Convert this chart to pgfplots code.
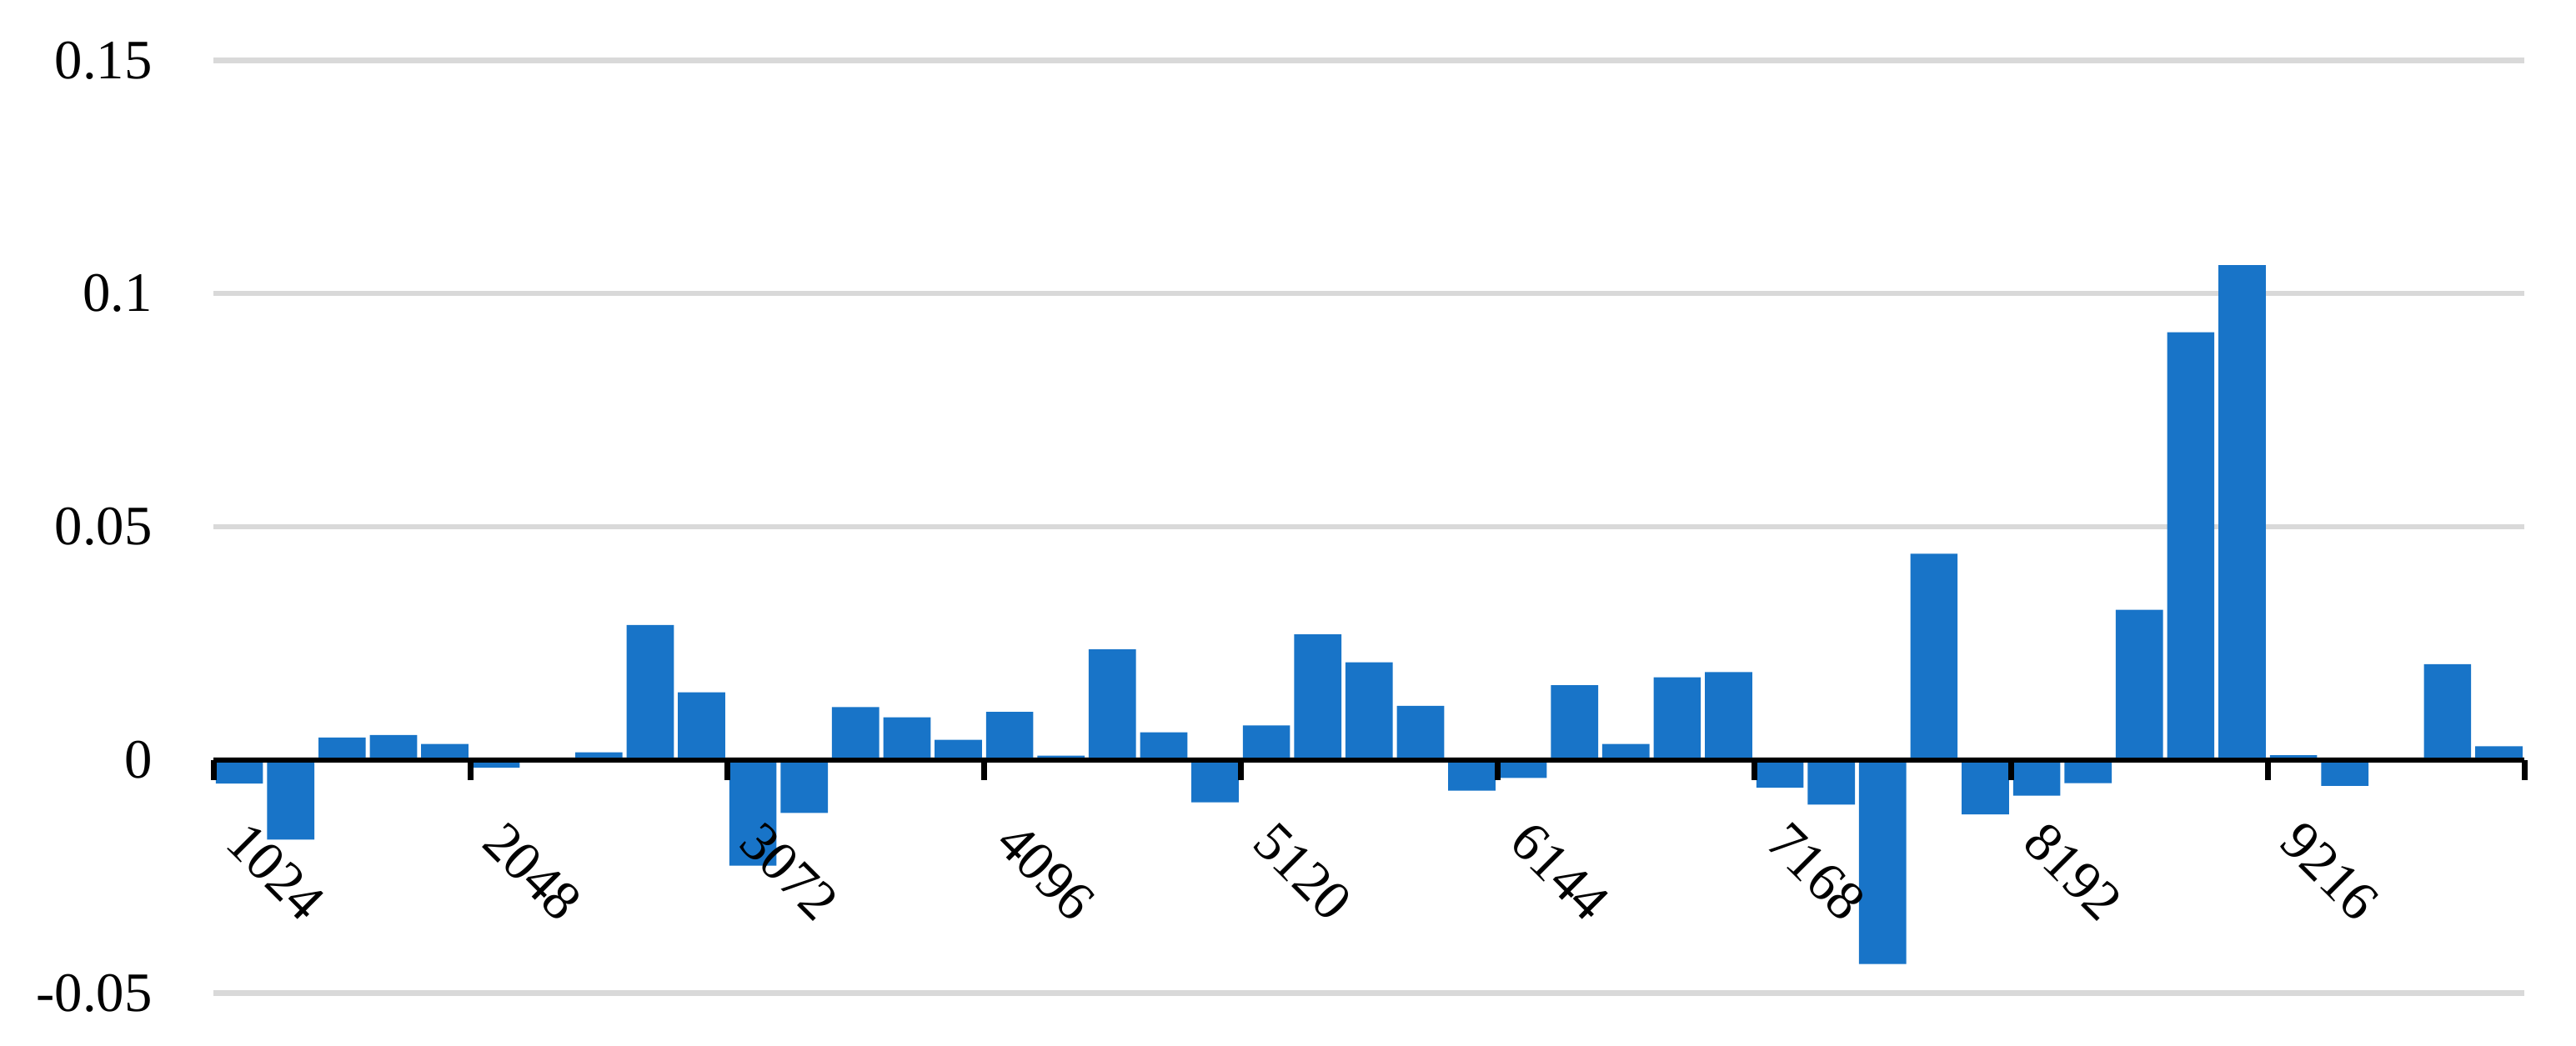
\documentclass[border=0pt]{standalone}
\usepackage{pgfplots}
\pgfplotsset{compat=1.18}
\usepackage{fontspec}
\setmainfont{Liberation Serif}
\definecolor{barblue}{RGB}{24,116,200}
\definecolor{gridgray}{RGB}{217,217,217}

\pgfplotsset{
  frame/.style={
    scale only axis,
    width=17.95cm, height=7.245cm,
    xmin=-0.5, xmax=44.5,
    ymin=-0.05, ymax=0.15,
    ytick={-0.05,0,0.05,0.1,0.15},
  },
}

\begin{document}
\begin{tikzpicture}
% grid and bars
\begin{axis}[
    frame,
    ybar, bar width=0.92,
    xtick=\empty,
    yticklabels={},
    major tick length=0pt,
    axis line style={draw=none},
    ymajorgrids,
    major grid style={line width=1.2pt, gridgray},
]
\addplot[fill=barblue, draw=none] coordinates {
(0,-0.0051) (1,-0.0171) (2,0.0048) (3,0.0053) (4,0.0034)
(5,-0.0017) (6,0) (7,0.0016) (8,0.0289) (9,0.0145)
(10,-0.0227) (11,-0.0114) (12,0.0113) (13,0.0091) (14,0.0043)
(15,0.0103) (16,0.0009) (17,0.0237) (18,0.0059) (19,-0.0091)
(20,0.0074) (21,0.0269) (22,0.0209) (23,0.0116) (24,-0.0066)
(25,-0.0039) (26,0.0160) (27,0.0034) (28,0.0177) (29,0.0188)
(30,-0.0060) (31,-0.0096) (32,-0.0438) (33,0.0442) (34,-0.0117)
(35,-0.0077) (36,-0.0050) (37,0.0322) (38,0.0917) (39,0.1061)
(40,0.0010) (41,-0.0056) (42,0) (43,0.0205) (44,0.0029)
};
\end{axis}
% zero line, ticks and labels drawn over the bars
\begin{axis}[
    frame,
    name=ax,
    axis x line=middle,
    axis y line*=left,
    y axis line style={draw=none},
    x axis line style={-, line width=1.15pt},
    xtick={0,5,...,40},
    xticklabels={1024,2048,3072,4096,5120,6144,7168,8192,9216},
    minor xtick={-0.5,4.5,...,44.5},
    yticklabels={-0.05,0,0.05,0.1,0.15},
    major tick length=0pt,
    minor tick length=0.155cm,
    tick align=outside,
    minor tick style={line width=1.2pt, black},
    tick label style={font=\fontsize{12.3}{14}\selectfont},
    xticklabel style={xshift=0.08cm, yshift=-0.45cm, inner sep=0pt, rotate=-45, anchor=north west},
    yticklabel style={anchor=east, inner sep=0pt, xshift=-0.47cm},
]
\end{axis}
\path ([shift={(-1.66cm,-0.41cm)}]ax.south west) rectangle ([shift={(0.40cm,0.47cm)}]ax.north east);
\end{tikzpicture}
\end{document}
